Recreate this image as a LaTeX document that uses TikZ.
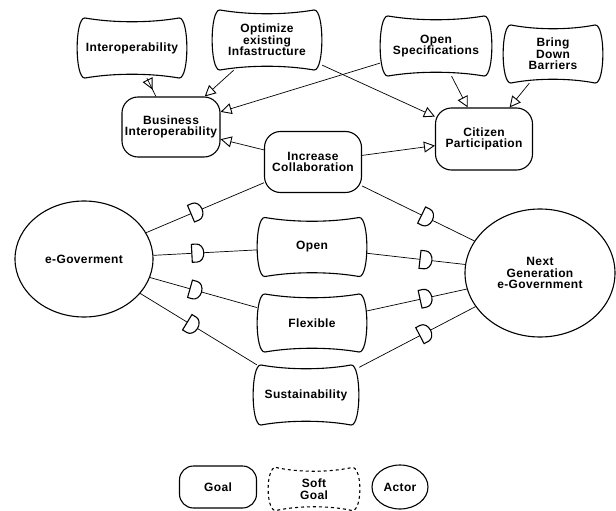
\documentclass[tikz,border=0pt]{standalone}
\usepackage{fontspec}
\setmainfont{Liberation Sans}[LetterSpace=3]
\usetikzlibrary{shapes.geometric,arrows.meta,decorations.markings}
\tikzset{
  lbl/.style={font=\fontsize{12}{11.5}\selectfont\bfseries, align=center, inner sep=0pt},
  goal/.style={lbl, draw, line width=1.1pt, rounded corners=16pt, fill=white},
  soft/.style={lbl, draw=none},
  actor/.style={lbl, ellipse, draw, line width=1.1pt, fill=white},
  link/.style={line width=0.7pt},
  meansend/.style={link, -{Triangle[open,length=11pt,width=11pt,line width=0.9pt]}},
  midmeansend/.style={link, postaction={decorate}, decoration={markings,
      mark=at position 0.62 with {\arrow{Triangle[open,length=11pt,width=11pt,line width=0.9pt]}}}},
  dmark/.style={link, postaction={decorate}, decoration={markings,
      mark=at position #1 with {\draw[fill=white,line width=1.1pt] (-5pt,-9pt) -- (-5pt,9pt) -- (0pt,9pt)
        arc[start angle=90,end angle=-90,x radius=7pt,y radius=9pt] -- cycle;}}},
}
\newcommand\pillow[4][]{%
  \draw[line width=1.1pt,#1,shift={(#2.center)}]
    (-#3+8,-#4) .. controls (-#3/3,-#4+5) and (#3/3,-#4+5) .. (#3-8,-#4)
    .. controls (#3+2.5,-#4-1) and (#3+2.5,#4+1) .. (#3-8,#4)
    .. controls (#3/3,#4-5) and (-#3/3,#4-5) .. (-#3+8,#4)
    .. controls (-#3-2.5,#4+1) and (-#3-2.5,-#4-1) .. (-#3+8,-#4) -- cycle;}
\begin{document}
\begin{tikzpicture}[x=1pt,y=-1pt]
\useasboundingbox (0,0) rectangle (616,511);
% soft goals
\node[soft, minimum width=110pt, minimum height=60pt] (interop) at (132,48) {Interoperability};
\node[soft, minimum width=110pt, minimum height=60pt] (optimize) at (267,40) {Optimize\\existing\\Infastructure};
\node[soft, minimum width=112pt, minimum height=60pt] (openspec) at (436,46) {Open\\Specifications};
\node[soft, minimum width=100pt, minimum height=58pt] (bdb) at (553,54) {Bring\\Down\\Barriers};
\node[soft, minimum width=110pt, minimum height=59pt] (open) at (312,247) {Open};
\node[soft, minimum width=110pt, minimum height=58pt] (flexible) at (312,323) {Flexible};
\node[soft, minimum width=106pt, minimum height=60pt] (sust) at (306,395) {Sustainability};
\pillow{interop}{55}{30}
\pillow{optimize}{55}{30}
\pillow{openspec}{56}{30}
\pillow{bdb}{50}{29}
\pillow{open}{55}{29.5}
\pillow{flexible}{55}{29}
\pillow{sust}{53}{30}
% goals
\node[goal, minimum width=98pt, minimum height=60pt] (bi) at (171,127) {Business\\Interoperability};
\node[goal, minimum width=97pt, minimum height=62pt] (citizen) at (484,139) {Citizen\\Participation};
\node[goal, minimum width=97pt, minimum height=61pt] (ic) at (313,162) {Increase\\Collaboration};
% actors
\node[actor, minimum width=138pt, minimum height=116pt] (egov) at (84,259) {e-Goverment};
\node[actor, minimum width=150pt, minimum height=128pt] (ng) at (540,273) {Next\\Generation\\e-Government};
% means-end links
\draw[midmeansend] (interop) -- (bi);
\draw[meansend] (optimize) -- (bi);
\draw[meansend] (openspec) -- (bi);
\draw[meansend] (ic) -- (bi);
\draw[meansend] (optimize) -- (citizen);
\draw[meansend] (openspec) -- (citizen);
\draw[meansend] (bdb) -- (citizen);
\draw[meansend] (ic) -- (citizen);
% contribution links
\draw[dmark=0.42] (egov) -- (ic);
\draw[dmark=0.42] (egov) -- (open);
\draw[dmark=0.42] (egov) -- (flexible);
\draw[dmark=0.44] (egov) -- (sust);
\draw[dmark=0.57] (ic) -- (ng);
\draw[dmark=0.59] (open) -- (ng);
\draw[dmark=0.58] (flexible) -- (ng);
\draw[dmark=0.56] (sust) -- (ng);
% legend
\node[goal, minimum width=77pt, minimum height=42pt, rounded corners=14pt] (lgoal) at (218,487) {Goal};
\node[soft, minimum width=92pt, minimum height=43pt] (lsoft) at (314,489) {Soft\\Goal};
\pillow[dashed]{lsoft}{46}{21.5}
\node[actor, minimum width=56pt, minimum height=44pt] (lactor) at (400,487) {Actor};
\end{tikzpicture}
\end{document}
